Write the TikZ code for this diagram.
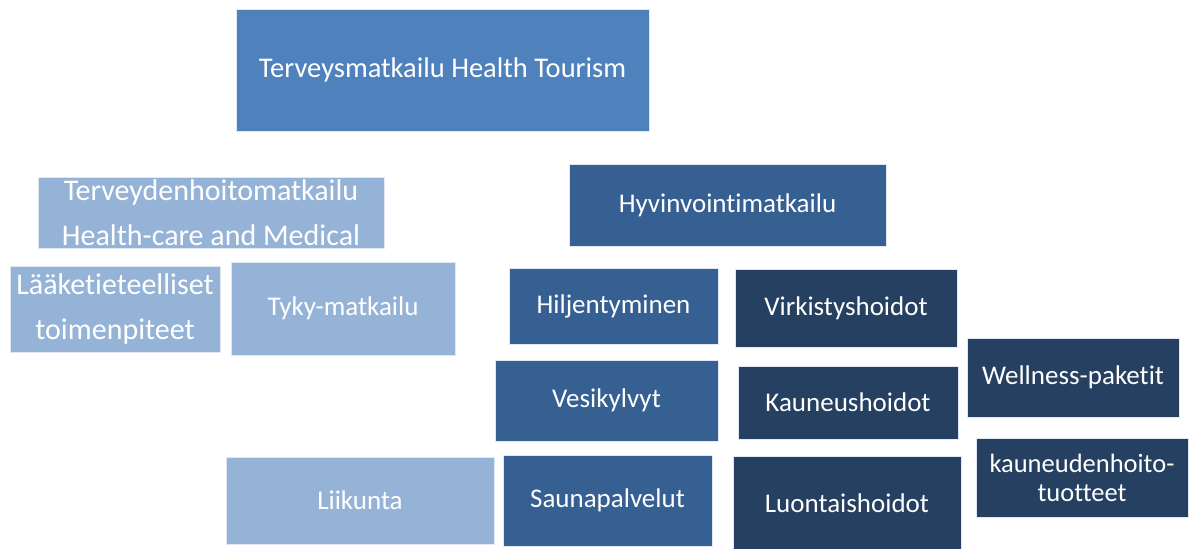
\documentclass[tikz,border=0pt]{standalone}
\usepackage{fontspec}
\setmainfont{Carlito}[Ligatures={NoCommon}]
\definecolor{topblue}{HTML}{4F81BD}
\definecolor{lightblue}{HTML}{95B3D7}
\definecolor{midblue}{HTML}{366092}
\definecolor{darkblue}{HTML}{254061}

\begin{document}
\begin{tikzpicture}[x=1pt, y=-1pt,
    box/.style={text=white, inner sep=0pt, align=center, draw=white!70!lightblue, line width=0.6pt,
        font=\fontsize{27}{45}\selectfont},
    big/.style={font=\fontsize{30}{45}\selectfont},
    topbox/.style={box, fill=topblue, font=\fontsize{28.5}{45}\selectfont},
    lightbox/.style={box, fill=lightblue},
    midbox/.style={box, fill=midblue},
    darkbox/.style={box, fill=darkblue}]
		\useasboundingbox (0,0) rectangle (1192,549);
		% main topic
		\node[topbox, minimum width=413, minimum height=122]	(health)	at (442.5,70)	{Terveysmatkailu Health Tourism};
		% health-care branch
		\node[lightbox, big, minimum width=346, minimum height=71]	(care)	at (211,212.5)	{Terveydenhoitomatkailu\\Health-care and Medical};
		\node[lightbox, big, minimum width=210, minimum height=86]	(medical)	at (115,309)	{Lääketieteelliset\\toimenpiteet};
		\node[lightbox, minimum width=224, minimum height=93]	(tyky)	at (343,308.5)	{Tyky-matkailu};
		\node[lightbox, minimum width=268, minimum height=87]	(sport)	at (360,500.5)	{Liikunta};
		% wellness branch
		\node[midbox, minimum width=317, minimum height=82]	(wellbeing)	at (727.5,205)	{Hyvinvointimatkailu};
		\node[midbox, minimum width=209, minimum height=76]	(calm)	at (613.5,306)	{Hiljentyminen};
		\node[midbox, minimum width=223, minimum height=81]	(bath)	at (606.5,400.5)	{Vesikylvyt};
		\node[midbox, minimum width=209, minimum height=91]	(sauna)	at (607.5,500.5)	{Saunapalvelut};
		\node[darkbox, minimum width=222, minimum height=78]	(refresh)	at (846,308)	{Virkistyshoidot};
		\node[darkbox, minimum width=220, minimum height=73]	(beauty)	at (848,402.5)	{Kauneushoidot};
		\node[darkbox, minimum width=228, minimum height=94]	(natural)	at (847,503)	{Luontaishoidot};
		\node[darkbox, minimum width=212, minimum height=79]	(package)	at (1073,377.5)	{Wellness-paketit};
		\node[darkbox, minimum width=212, minimum height=79, font=\fontsize{26.5}{29}\selectfont]	(products)	at (1082,477.5)	{kauneudenhoito-\\tuotteet};
\end{tikzpicture}
\end{document}
